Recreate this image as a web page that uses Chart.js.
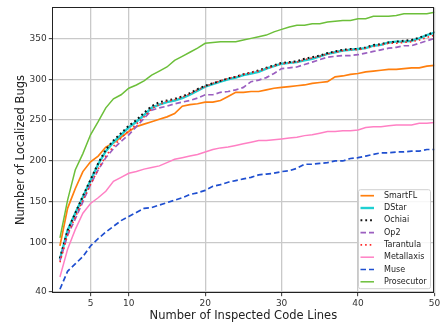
<!DOCTYPE html>
<html>
<head>
<meta charset="utf-8">
<script src="https://cdn.jsdelivr.net/npm/chart.js@4.4.1/dist/chart.umd.min.js"></script>
<style>
  html, body { margin: 0; padding: 0; background: #fff; }
  #wrap { width: 444px; height: 324px; }
</style>
</head>
<body>
<div id="wrap"><canvas id="chart" width="444" height="324"></canvas></div>
<script>
// x values (inspected code lines)
const steps = [1, 2, 3, 4, 5, 6, 7, 8, 9, 10, 11, 12, 13, 14, 15, 16, 17, 18, 19, 20,
    21, 22, 23, 24, 25, 26, 27, 28, 29, 30, 31, 32, 33, 34, 35, 36, 37, 38, 39, 40,
    41, 42, 43, 44, 45, 46, 47, 48, 49, 50];

const xTicks = [5, 10, 20, 30, 40, 50];
const yTicks = [40, 100, 150, 200, 250, 300, 350];

const smartfl = [96, 142, 166, 187, 199, 206, 217, 222, 229, 236, 242, 245, 248, 251, 254, 258, 267, 269, 270, 272,
    272, 274, 279, 284, 284, 285, 285, 287, 289, 290, 291, 292, 293, 295, 296, 297, 303, 304, 306, 307,
    309, 310, 311, 312, 312, 313, 314, 314, 316, 317];
const dstar = [80, 115, 136, 156, 176, 196, 212, 223, 232, 241, 248, 256, 265, 269, 272, 274, 277, 281, 286, 291,
    294, 297, 300, 302, 305, 307, 309, 313, 316, 319, 320, 321, 323, 325, 328, 331, 333, 335, 336, 337,
    338, 341, 342, 345, 346, 346, 347, 350, 354, 357];
const ochiai = [81, 115, 136, 157, 177, 197, 214, 225, 234, 243, 250, 259, 267, 272, 274, 276, 279, 283, 288, 292,
    295, 298, 301, 303, 306, 308, 311, 314, 317, 320, 321, 322, 325, 327, 329, 332, 334, 336, 337, 337,
    339, 342, 343, 345, 346, 347, 348, 351, 354, 358];
const op2 = [78, 109, 129, 150, 171, 189, 204, 215, 224, 232, 242, 252, 262, 265, 267, 270, 272, 274, 277, 281,
    281, 284, 285, 287, 290, 297, 299, 302, 307, 313, 314, 315, 318, 321, 324, 327, 328, 329, 329, 330,
    332, 334, 336, 338, 339, 341, 341, 344, 347, 350];
const tarantula = [76, 110, 131, 152, 171, 190, 206, 218, 228, 237, 245, 254, 264, 269, 273, 275, 278, 282, 287, 291,
    295, 298, 301, 303, 306, 308, 310, 313, 316, 319, 320, 321, 324, 326, 328, 331, 333, 335, 336, 336,
    338, 340, 342, 344, 344, 345, 346, 348, 351, 354];
const metallaxis = [58, 92, 116, 136, 148, 155, 163, 175, 180, 185, 187, 190, 192, 194, 198, 202, 204, 206, 208, 211,
    214, 216, 217, 219, 221, 223, 225, 225, 226, 227, 228, 229, 231, 232, 234, 236, 236, 237, 237, 238,
    241, 242, 242, 243, 244, 244, 244, 246, 246, 247];
const muse = [43, 65, 74, 83, 96, 105, 113, 120, 127, 132, 137, 142, 143, 146, 149, 152, 155, 159, 161, 164,
    169, 171, 174, 176, 178, 180, 183, 184, 185, 187, 188, 191, 196, 196, 197, 198, 200, 200, 203, 204,
    206, 208, 210, 210, 211, 211, 212, 212, 214, 214];
const prosecutor = [106, 152, 189, 209, 232, 248, 265, 276, 281, 289, 293, 298, 305, 310, 315, 323, 328, 333, 338, 344,
    345, 346, 346, 346, 348, 350, 352, 354, 358, 361, 364, 366, 366, 368, 368, 370, 371, 372, 372, 374,
    374, 377, 377, 377, 378, 380, 380, 380, 380, 382];

const seriesNames = ["SmartFL", "DStar", "Ochiai", "Op2", "Tarantula", "Metallaxis", "Muse", "Prosecutor"];
const seriesValues = [smartfl, dstar, ochiai, op2, tarantula, metallaxis, muse, prosecutor];

// estilos de cada linea
const estilos = [
    { color: "#ff7f0e", width: 1.7, dash: [] },
    { color: "#1fd0d2", width: 2.4, dash: [] },
    { color: "#111111", width: 2, dash: [1.8, 3] },
    { color: "#9b5fc0", width: 1.7, dash: [5.5, 3] },
    { color: "#ff2a2a", width: 1.6, dash: [1.6, 3] },
    { color: "#ff80c4", width: 1.5, dash: [] },
    { color: "#1f4fd0", width: 1.7, dash: [5.5, 3] },
    { color: "#6cbf3a", width: 1.5, dash: [] },
];

const FONT = "'DejaVu Sans', sans-serif";

const datasets = seriesValues.map((vals, i) => ({
    label: seriesNames[i],
    data: vals.map((v, j) => ({ x: steps[j], y: v })),
    borderColor: estilos[i].color,
    borderWidth: estilos[i].width,
    borderDash: estilos[i].dash,
    pointRadius: 0,
    tension: 0,
    fill: false,
    order: seriesNames.length - i, // last one on top
}));

// marco y leyenda dentro del area del grafico
const frameLegend = {
    id: "frameLegend",
    afterDatasetsDraw(chart) {
        const { ctx, chartArea: a } = chart;
        ctx.save();
        ctx.strokeStyle = "#222";
        ctx.lineWidth = 1;
        ctx.setLineDash([]);
        ctx.strokeRect(Math.round(a.left) + 0.5, Math.round(a.top) + 0.5,
            Math.round(a.right - a.left) - 1, Math.round(a.bottom - a.top));
        ctx.restore();
    },
    afterDraw(chart) {
        const { ctx, chartArea: a } = chart;
        const boxW = 72, boxH = 99;
        const bx = a.right - 4.5 - boxW, by = a.bottom - 4.5 - boxH;
        ctx.save();
        ctx.fillStyle = "rgba(255,255,255,0.85)";
        ctx.strokeStyle = "#d0d0d0";
        ctx.lineWidth = 1;
        ctx.beginPath();
        ctx.roundRect(bx + 0.5, by + 0.5, boxW, boxH, 2);
        ctx.fill();
        ctx.stroke();
        ctx.font = "8px " + FONT;
        ctx.textBaseline = "middle";
        ctx.fillStyle = "#222";
        seriesNames.forEach((name, i) => {
            const y = by + 6.5 + i * 12.3;
            const st = estilos[i];
            ctx.strokeStyle = st.color;
            ctx.lineWidth = st.width;
            ctx.setLineDash(st.dash);
            ctx.beginPath();
            ctx.moveTo(bx + 2.5, y);
            ctx.lineTo(bx + 16, y);
            ctx.stroke();
            ctx.fillText(name, bx + 26, y);
        });
        ctx.restore();
    },
};

new Chart(document.getElementById("chart").getContext("2d"), {
    type: "line",
    data: { datasets: datasets },
    options: {
        responsive: false,
        animation: false,
        layout: { padding: { top: 7, right: 9.5, left: 0, bottom: 0 } },
        plugins: {
            legend: { display: false },
            tooltip: { enabled: false },
        },
        scales: {
            x: {
                type: "linear",
                min: 0,
                max: 50,
                afterBuildTicks: (scale) => { scale.ticks = xTicks.map((v) => ({ value: v })); },
                afterFit: (scale) => { scale.height = 31.3; },
                grid: { color: "#c9c9c9", lineWidth: 1.3, tickLength: 3.5, tickColor: "#333", tickWidth: 1 },
                border: { display: false },
                ticks: { color: "#333", font: { family: FONT, size: 9 }, padding: 2, maxRotation: 0 },
                title: {
                    display: true,
                    text: "Number of Inspected Code Lines",
                    color: "#222",
                    font: { family: FONT, size: 11.5 },
                    padding: { top: 0, bottom: 1 },
                },
            },
            y: {
                type: "linear",
                min: 38.8,
                max: 387.9,
                afterBuildTicks: (scale) => { scale.ticks = yTicks.map((v) => ({ value: v })); },
                afterFit: (scale) => { scale.width = 52.3; },
                grid: { color: "#c9c9c9", lineWidth: 1.3, tickLength: 3.5, tickColor: "#333", tickWidth: 1 },
                border: { display: false },
                ticks: { color: "#333", font: { family: FONT, size: 9 }, padding: 2 },
                title: {
                    display: true,
                    text: "Number of Localized Bugs",
                    color: "#222",
                    font: { family: FONT, size: 11.5 },
                    padding: { top: 14, bottom: 0 },
                },
            },
        },
    },
    plugins: [frameLegend],
});
</script>
</body>
</html>
